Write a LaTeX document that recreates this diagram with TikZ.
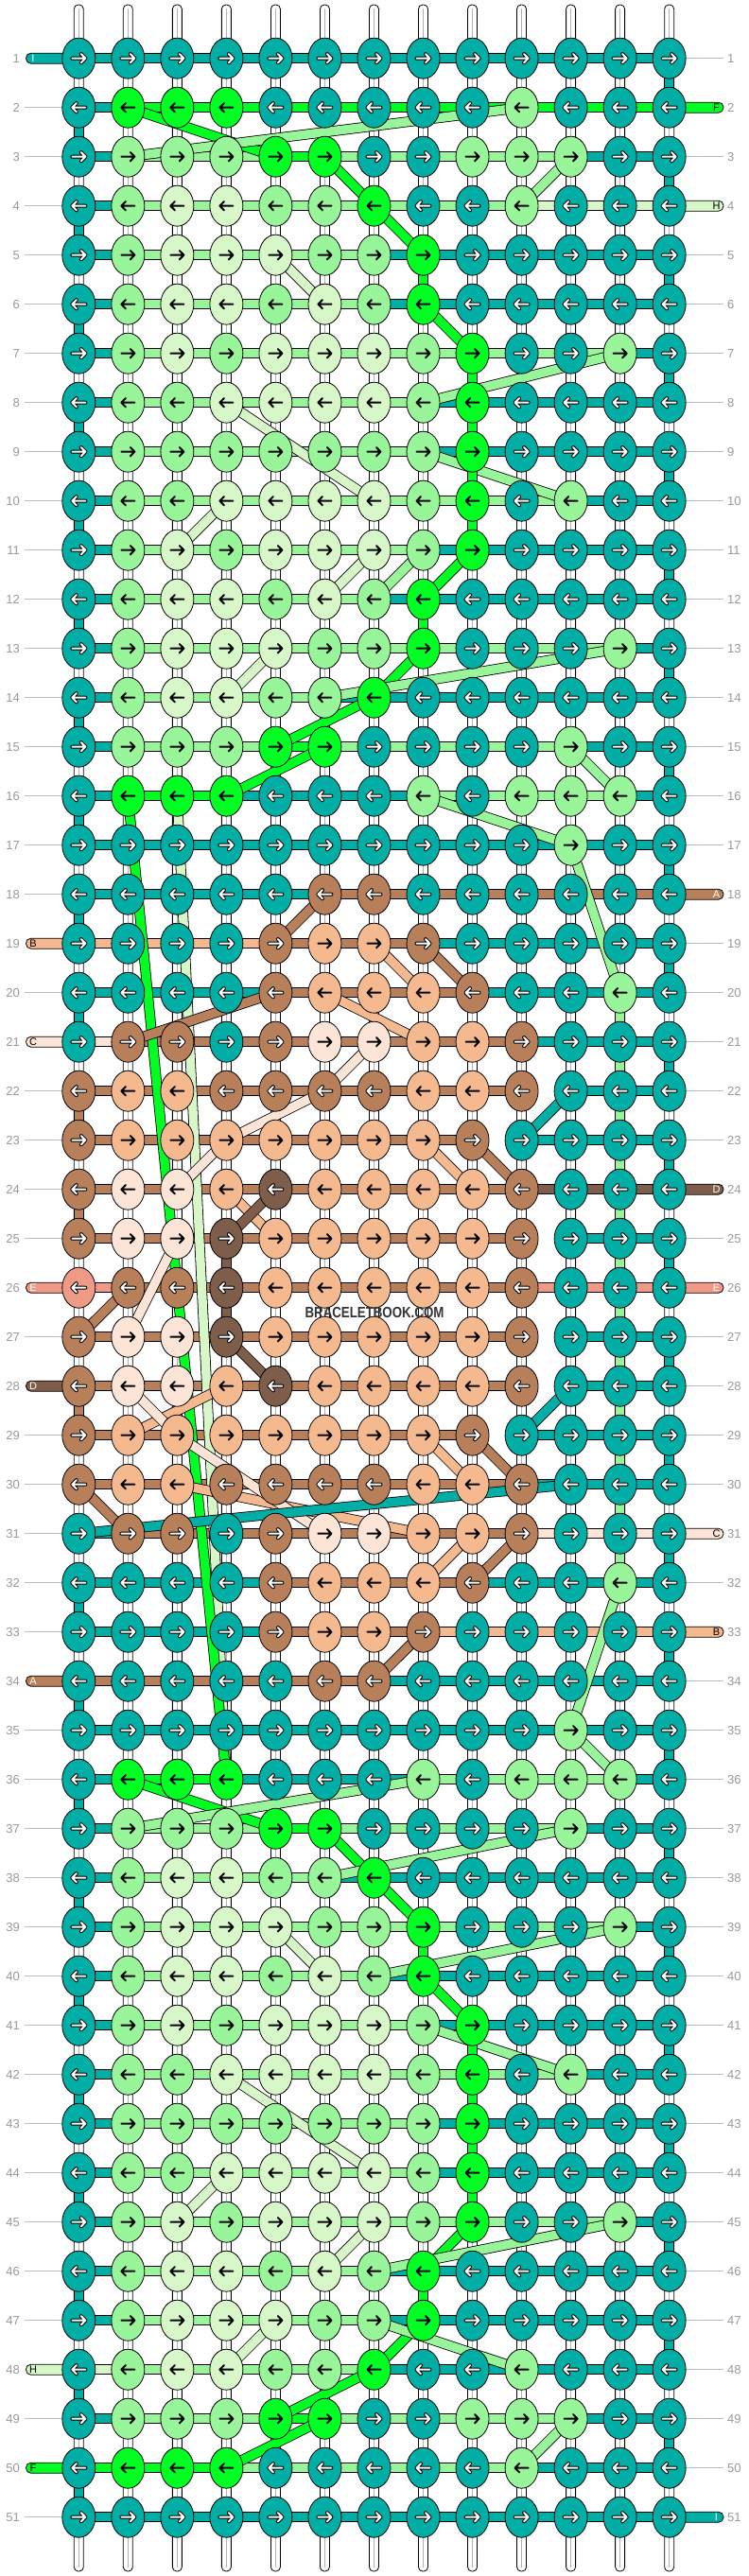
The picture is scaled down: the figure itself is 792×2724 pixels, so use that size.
\documentclass[tikz,border=0pt]{standalone}
\usepackage{fontspec}
\setmainfont{Liberation Sans}
\usetikzlibrary{shapes.geometric}

% thread colours
\definecolor{cT}{HTML}{00AEA5}
\definecolor{cG}{HTML}{00FF22}
\definecolor{cL}{HTML}{99F599}
\definecolor{cP}{HTML}{D8F7C8}
\definecolor{cB}{HTML}{B8805A}
\definecolor{cS}{HTML}{F5B98F}
\definecolor{cW}{HTML}{FCE4D6}
\definecolor{cD}{HTML}{7E5D4A}
\definecolor{cE}{HTML}{EF9A86}
% arrow colour and arrow outline per thread colour
\colorlet{arT}{white}\colorlet{olT}{black}
\colorlet{arB}{white}\colorlet{olB}{black}
\colorlet{arD}{white}\colorlet{olD}{black}
\colorlet{arE}{white}\colorlet{olE}{black}
\colorlet{arG}{black}\colorlet{olG}{cG}
\colorlet{arL}{black}\colorlet{olL}{cL}
\colorlet{arP}{black}\colorlet{olP}{cP}
\colorlet{arS}{black}\colorlet{olS}{cS}
\colorlet{arW}{black}\colorlet{olW}{cW}
\definecolor{labgray}{HTML}{999999}
\definecolor{tickgray}{HTML}{BEBEBE}
\definecolor{wmgray}{HTML}{333333}

\pgfdeclarelayer{strands}
\pgfdeclarelayer{bands}
\pgfsetlayers{strands,bands,main}

\tikzset{
  knot/.style={ellipse, draw=black, line width=0.8pt, minimum width=35pt,
    minimum height=43pt, inner sep=0pt, fill=c#1},
  band/.style={draw=black, line width=0.8pt, double=#1, double distance=9.4pt},
  stub/.style={draw=black, line width=0.8pt, fill=#1, rounded corners=5.2pt},
  strand/.style={draw=black, fill=white, line width=0.8pt, rounded corners=4.5pt},
  strandmid/.style={draw=black!30, line width=0.6pt},
  rowlab/.style={text=labgray, font=\fontsize{13}{13}\selectfont, inner sep=0pt},
  tick/.style={draw=tickgray, line width=1pt},
  stubtxt/.style={font=\fontsize{11}{11}\selectfont, inner sep=0pt},
}

\begin{document}
\begin{tikzpicture}[x=1pt, y=-1pt]
\useasboundingbox (0,0) rectangle (792,2724);

% base strands
\begin{pgfonlayer}{strands}
  \fill[white] (0,0) rectangle (792,2724);
  \foreach \ci in {1,...,13} {
    \pgfmathsetmacro\xx{83.3+52.03*(\ci-1)}
    \draw[strand] (\xx-5,5) rectangle (\xx+5,2719);
    \draw[strandmid] (\xx,9) -- (\xx,2715);
  }
\end{pgfonlayer}

% knots (row / knot colours / thread between knots)
\foreach \ri/\kn/\sg in {
 1/{T,T,T,T,T,T,T,T,T,T,T,T,T}/{T,T,T,T,T,T,T,T,T,T,T,T},
 2/{T,G,G,G,T,T,T,T,T,L,T,T,T}/{T,G,G,G,G,G,G,G,G,G,G,G},
 3/{T,L,L,L,G,G,T,T,L,L,L,T,T}/{T,L,L,L,G,L,L,L,L,L,T,T},
 4/{T,L,P,P,L,L,G,T,T,L,T,T,T}/{T,L,L,L,L,L,L,L,L,P,P,P},
 5/{T,L,P,P,P,L,L,G,T,T,T,T,T}/{T,L,L,L,L,L,T,T,T,T,T,T},
 6/{T,L,P,P,L,P,L,G,T,T,T,T,T}/{T,L,L,L,L,L,T,T,T,T,T,T},
 7/{T,L,P,L,P,P,P,L,G,T,T,L,T}/{T,L,L,L,L,L,L,L,L,L,L,T},
 8/{T,L,L,P,P,P,P,L,G,T,T,T,T}/{T,L,L,L,L,L,L,T,T,T,T,T},
 9/{T,L,L,L,L,L,L,L,G,T,T,T,T}/{T,L,L,L,L,L,L,T,T,T,T,T},
10/{T,L,L,P,P,P,P,L,G,T,L,T,T}/{T,L,L,L,L,L,L,L,L,L,T,T},
11/{T,L,P,L,P,P,P,L,G,T,T,T,T}/{T,L,L,L,L,L,L,T,T,T,T,T},
12/{T,L,P,P,L,P,L,G,T,T,T,T,T}/{T,L,L,L,L,L,T,T,T,T,T,T},
13/{T,L,P,P,P,L,L,G,T,T,T,L,T}/{T,L,L,L,L,L,L,L,L,L,L,T},
14/{T,L,P,P,L,L,G,T,T,T,T,T,T}/{T,L,L,L,L,T,T,T,T,T,T,T},
15/{T,L,L,L,G,G,T,T,T,T,L,T,T}/{T,L,L,L,G,L,L,L,L,L,T,T},
16/{T,G,G,G,T,T,T,L,T,L,L,L,T}/{T,G,G,T,T,T,T,L,L,L,L,T},
17/{T,T,T,T,T,T,T,T,T,T,L,T,T}/{T,T,T,T,T,T,T,T,T,T,T,T},
18/{T,T,T,T,T,B,B,T,T,T,T,T,T}/{T,T,T,T,T,B,B,B,B,B,B,B},
19/{T,T,T,T,B,S,S,B,T,T,T,T,T}/{S,S,S,S,B,B,B,T,T,T,T,T},
20/{T,T,T,T,B,S,S,S,B,T,T,L,T}/{T,T,T,T,B,B,B,B,T,T,T,T},
21/{T,B,B,T,B,W,W,S,S,B,T,T,T}/{W,B,B,B,B,B,B,B,B,T,T,T},
22/{B,S,S,B,B,B,B,S,S,B,T,T,T}/{B,B,B,B,B,B,B,B,B,N,T,T},
23/{B,S,S,S,S,S,S,S,B,T,T,T,T}/{B,B,B,B,B,B,B,B,N,T,T,T},
24/{B,W,W,S,D,S,S,S,S,B,T,T,T}/{B,B,B,B,B,B,B,B,B,D,D,D},
25/{B,W,W,D,S,S,S,S,S,B,T,T,T}/{B,B,B,B,B,B,B,B,B,N,T,T},
26/{E,B,B,D,S,S,S,S,S,B,T,T,T}/{E,B,B,B,B,B,B,B,B,E,E,E},
27/{B,W,W,D,S,S,S,S,S,B,T,T,T}/{B,B,B,B,B,B,B,B,B,N,T,T},
28/{B,W,W,S,D,S,S,S,S,B,T,T,T}/{B,B,B,B,B,B,B,B,B,N,T,T},
29/{B,S,S,S,S,S,S,S,B,T,T,T,T}/{B,B,B,B,B,B,B,B,N,T,T,T},
30/{B,S,S,B,B,B,B,S,S,B,T,T,T}/{B,B,B,B,B,B,B,B,B,T,T,T},
31/{T,B,B,T,B,W,W,S,S,B,T,T,T}/{T,B,B,B,B,B,B,B,B,W,W,W},
32/{T,T,T,T,B,S,S,S,B,T,T,L,T}/{T,T,T,T,B,B,B,B,T,T,T,T},
33/{T,T,T,T,B,S,S,B,T,T,T,T,T}/{T,T,T,T,B,B,B,S,S,S,S,S},
34/{T,T,T,T,T,B,B,T,T,T,T,T,T}/{B,B,B,B,B,B,T,T,T,T,T,T},
35/{T,T,T,T,T,T,T,T,T,T,L,T,T}/{T,T,T,T,T,T,T,T,T,T,T,T},
36/{T,G,G,G,T,T,T,L,T,L,L,L,T}/{T,G,G,T,T,T,T,L,L,L,L,T},
37/{T,L,L,L,G,G,T,T,T,T,L,T,T}/{T,L,L,L,G,L,L,L,L,L,T,T},
38/{T,L,P,P,L,L,G,T,T,T,T,T,T}/{T,L,L,L,L,T,T,T,T,T,T,T},
39/{T,L,P,P,P,L,L,G,T,T,T,L,T}/{T,L,L,L,L,L,L,L,L,L,L,T},
40/{T,L,P,P,L,P,L,G,T,T,T,T,T}/{T,L,L,L,L,L,T,T,T,T,T,T},
41/{T,L,P,L,P,P,P,L,G,T,T,T,T}/{T,L,L,L,L,L,L,T,T,T,T,T},
42/{T,L,L,P,P,P,P,L,G,T,L,T,T}/{T,L,L,L,L,L,L,L,L,L,T,T},
43/{T,L,L,L,L,L,L,L,G,T,T,T,T}/{T,L,L,L,L,L,L,T,T,T,T,T},
44/{T,L,L,P,P,P,P,L,G,T,T,T,T}/{T,L,L,L,L,L,L,T,T,T,T,T},
45/{T,L,P,L,P,P,P,L,G,T,T,L,T}/{T,L,L,L,L,L,L,L,L,L,L,T},
46/{T,L,P,P,L,P,L,G,T,T,T,T,T}/{T,L,L,L,L,L,T,T,T,T,T,T},
47/{T,L,P,P,P,L,L,G,T,T,T,T,T}/{T,L,L,L,L,L,T,T,T,T,T,T},
48/{T,L,P,P,L,L,G,T,T,L,T,T,T}/{P,L,L,L,L,L,T,T,T,T,T,T},
49/{T,L,L,L,G,G,T,T,L,L,L,T,T}/{T,L,L,L,G,L,L,L,L,L,T,T},
50/{T,G,G,G,T,T,T,T,T,L,T,T,T}/{G,G,G,L,L,L,L,L,L,T,T,T},
51/{T,T,T,T,T,T,T,T,T,T,T,T,T}/{T,T,T,T,T,T,T,T,T,T,T,T}} {
  \pgfmathsetmacro\yy{61.7+52*(\ri-1)}
  \ifodd\ri \def\dirn{1}\else\def\dirn{-1}\fi
  \foreach \k [count=\ci] in \kn {
    \pgfmathsetmacro\xx{83.3+52.03*(\ci-1)}
    \node[knot=\k] (k-\ri-\ci) at (\xx,\yy) {};
    \begin{scope}[shift={(\xx,\yy)}, xscale=\dirn, line cap=round, line join=round]
      \draw[draw=ol\k, line width=4pt] (-7,0) -- (7,0) (2.5,-4.6) -- (7,0) -- (2.5,4.6);
      \draw[draw=ar\k, line width=2pt] (-7,0) -- (7,0) (2.5,-4.6) -- (7,0) -- (2.5,4.6);
    \end{scope}
  }
  \begin{pgfonlayer}{bands}
  \foreach \s [count=\j] in \sg {
    \if N\s\else
      \pgfmathtruncatemacro\jn{\j+1}
      \draw[band=c\s] (k-\ri-\j.center) -- (k-\ri-\jn.center);
    \fi
  }
  \end{pgfonlayer}
}

\begin{pgfonlayer}{bands}
% threads moving between rows
\foreach \cl/\ra/\ca/\rb/\cb in {
  G/2/2/3/5, G/3/6/4/7, G/4/7/5/8, G/6/8/7/9, G/11/9/12/8, G/13/8/14/7,
  G/14/7/15/5, G/15/6/16/4, G/36/2/37/5, G/37/6/38/7, G/38/7/39/8,
  G/40/8/41/9, G/45/9/46/8, G/47/8/48/7, G/48/7/49/5, G/49/6/50/4,
  P/5/5/6/6, P/8/4/10/7, P/11/3/10/4, P/12/6/11/7, P/14/4/13/5, P/16/3/36/4,
  P/39/5/40/6, P/42/4/44/7, P/45/3/44/4, P/46/6/45/7, P/48/4/47/5,
  G/16/2/36/4,
  L/3/2/2/10, L/4/10/3/11, L/8/8/7/12, L/9/8/10/11, L/12/7/11/8, L/14/6/13/12,
  L/15/11/16/12, L/16/8/17/11, L/17/11/20/12, L/32/12/35/11, L/35/11/36/12,
  L/37/2/36/8, L/38/6/37/11, L/40/7/39/12, L/41/8/42/11, L/46/7/45/12,
  L/47/7/48/10, L/49/11/50/10,
  B/18/6/19/5, B/19/8/20/9, B/20/5/21/2, B/23/9/24/10, B/26/2/27/1,
  B/29/9/30/10, B/30/1/31/2, B/31/10/32/9, B/33/8/34/7,
  S/19/7/20/8, S/20/6/21/8, S/23/8/24/9, S/24/4/25/5, S/28/4/29/2,
  S/29/8/30/9, S/30/3/31/8, S/31/9/32/8,
  W/21/7/22/6, W/22/6/23/4, W/23/4/24/3, W/25/3/27/2, W/28/2/29/3, W/29/3/31/6,
  D/24/5/25/4, D/27/4/28/5,
  T/22/11/23/10, T/28/11/29/10, T/30/11/31/1}
  \draw[band=c\cl] (k-\ra-\ca.center) -- (k-\rb-\cb.center);

% turns at the edges and stacked knots
\foreach \ri in {1,3,...,49} {
  \pgfmathtruncatemacro\rn{\ri+1}
  \draw[band=cT] (k-\ri-13.center) -- (k-\rn-13.center);
}
\foreach \ri in {2,4,...,20,32,34,...,50} {
  \pgfmathtruncatemacro\rn{\ri+1}
  \draw[band=cT] (k-\ri-1.center) -- (k-\rn-1.center);
}
\foreach \ri in {22,24,28} {
  \pgfmathtruncatemacro\rn{\ri+1}
  \draw[band=cB] (k-\ri-1.center) -- (k-\rn-1.center);
}
\foreach \ri in {20,...,31} {
  \pgfmathtruncatemacro\rn{\ri+1}
  \draw[band=cL] (k-\ri-12.center) -- (k-\rn-12.center);
}
\foreach \cl/\ri/\ci in {G/5/8, G/7/9, G/8/9, G/9/9, G/10/9, G/12/8, G/39/8,
    G/41/9, G/42/9, G/43/9, G/44/9, G/46/8, D/25/4, D/26/4} {
  \pgfmathtruncatemacro\rn{\ri+1}
  \draw[band=c\cl] (k-\ri-\ci.center) -- (k-\rn-\ci.center);
}
\end{pgfonlayer}

% loose thread ends with letters
\foreach \sd/\ri/\cl/\ltr in {L/1/T/I, R/2/G/F, R/4/P/H, R/18/B/A, L/19/S/B,
    L/21/W/C, R/24/D/D, L/26/E/E, R/26/E/E, L/28/D/D, R/31/W/C, R/33/S/B,
    L/34/B/A, L/48/P/H, L/50/G/F, R/51/T/I} {
  \pgfmathsetmacro\yy{61.7+52*(\ri-1)}
  \if L\sd
    \coordinate (e-L-\ri) at (27.5,\yy);
    \begin{pgfonlayer}{bands}
      \draw[stub=c\cl] ([yshift=5.5pt]e-L-\ri) rectangle ([yshift=-5.5pt]k-\ri-1.center);
    \end{pgfonlayer}
    \node[stubtxt, text=ar\cl] (t-L-\ri) at (35,\yy) {\ltr};
  \else
    \coordinate (e-R-\ri) at (765,\yy);
    \begin{pgfonlayer}{bands}
      \draw[stub=c\cl] ([yshift=5.5pt]k-\ri-13.center) rectangle ([yshift=-5.5pt]e-R-\ri);
    \end{pgfonlayer}
    \node[stubtxt, text=ar\cl] (t-R-\ri) at (757.5,\yy) {\ltr};
  \fi
}

% row numbers
\foreach \ri in {1,...,51} {
  \pgfmathsetmacro\yy{61.7+52*(\ri-1)}
  \node[rowlab, anchor=east] (lab-l-\ri) at (21,\yy) {\ri};
  \node[rowlab, anchor=west] (lab-r-\ri) at (769,\yy) {\ri};
}
\begin{pgfonlayer}{strands}
\foreach \ri in {2,3,...,18,20,22,23,24,25,27,29,30,...,33,35,36,...,47,49,51}
  \draw[tick] ([xshift=5pt]lab-l-\ri.east) -- (k-\ri-1.west);
\foreach \ri in {1,3,5,6,...,17,19,20,...,23,25,27,28,...,30,32,34,35,...,50}
  \draw[tick] (k-\ri-13.east) -- ([xshift=-4pt]lab-r-\ri.west);
\end{pgfonlayer}

\node[text=wmgray, font=\bfseries\fontsize{16}{16}\selectfont, inner sep=0pt]
  (wm) at (396,1387.5) {\scalebox{0.83}[1]{BRACELETBOOK.COM}};
\end{tikzpicture}
\end{document}
